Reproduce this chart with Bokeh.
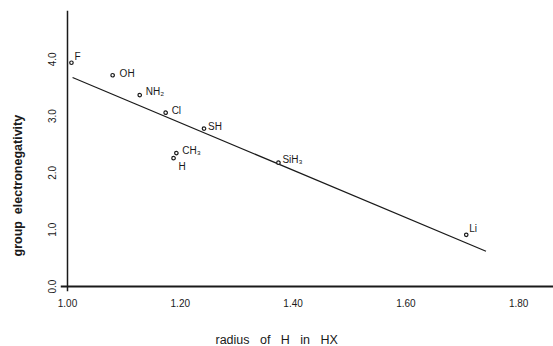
from bokeh.core.properties import value
from bokeh.embed import file_html
from bokeh.models import (ColumnDataSource, FixedTicker, NumeralTickFormatter,
                          Range1d, Span, Title)
from bokeh.plotting import figure
from bokeh.resources import INLINE

# Group electronegativity against radius of H in HX
groups = ["F", "OH", "NH₂", "Cl", "SH", "CH₃", "H", "SiH₃", "Li"]
radius = [1.007, 1.080, 1.128, 1.174, 1.242, 1.193, 1.188, 1.374, 1.707]
electroneg = [3.94, 3.72, 3.37, 3.06, 2.78, 2.35, 2.26, 2.18, 0.91]

# straight-line fit drawn through the points
fit_radius = [1.009, 1.742]
fit_electroneg = [3.68, 0.62]

x_ticks = [1.0, 1.2, 1.4, 1.6, 1.8]
y_ticks = [0, 1, 2, 3, 4]

# label placement next to each point (screen pixels)
label_dx = [3, 7, 6, 6, 4, 6, 5, 4, 3]
label_dy = [-6, -2, -4, -2, -2, -3, 8, -3, -6]

FONT = "Liberation Sans"
INK = "#1a1a1a"
GAP = "\u00a0\u00a0 "
SPACER = "\u00a0"

src = ColumnDataSource(dict(x=radius, y=electroneg, name=groups,
                            dx=label_dx, dy=label_dy))

p = figure(width=553, height=346, output_backend="svg", toolbar_location=None,
           x_range=Range1d(0.98759, 1.86170), y_range=Range1d(-0.08772, 4.8596),
           min_border_left=60, min_border_right=0, min_border_top=10,
           min_border_bottom=54)
p.outline_line_color = None
p.grid.visible = False
p.background_fill_color = "white"
p.border_fill_color = "white"

for ax in (p.xaxis[0], p.yaxis[0]):
    ax.axis_line_color = None
    ax.major_tick_line_color = None
    ax.minor_tick_line_color = None
    ax.major_tick_out = 0
    ax.major_tick_in = 0
    ax.major_label_text_font = FONT
    ax.major_label_text_font_size = "10px"
    ax.major_label_text_color = INK
    # blank axis label keeps a gap between tick labels and the titles
    ax.axis_label = SPACER
    ax.axis_label_text_font_size = "1px"

p.xaxis.ticker = FixedTicker(ticks=x_ticks)
p.xaxis.formatter = NumeralTickFormatter(format="0.00")
p.xaxis.major_label_standoff = 7
p.xaxis.axis_label_standoff = 17

p.yaxis.ticker = FixedTicker(ticks=y_ticks)
p.yaxis.formatter = NumeralTickFormatter(format="0.0")
p.yaxis.major_label_orientation = "vertical"
p.yaxis.major_label_standoff = 4
p.yaxis.axis_label_standoff = 16

# axis titles, each set off-centre along its axis
p.add_layout(Title(text=GAP.join(["radius", "of", "H", "in", "HX"]), align="left",
                   offset=155, standoff=0, text_font=FONT, text_font_size="12.5px",
                   text_font_style="normal", text_color=INK), "below")
p.add_layout(Title(text="group\u00a0 electronegativity", align="left", offset=35,
                   standoff=2, text_font=FONT, text_font_size="12.5px",
                   text_font_style="bold", text_color=INK), "left")

# axes drawn as lines crossing at (1.00, 0.0)
p.add_layout(Span(location=1.0, dimension="height", line_color=INK, line_width=1.5))
p.add_layout(Span(location=0.0, dimension="width", line_color=INK, line_width=1.8))

p.line(fit_radius, fit_electroneg, line_color=INK, line_width=1.2)
p.scatter("x", "y", source=src, size=3.5, fill_color="white", line_color=INK,
          line_width=1.2)
p.text("x", "y", text="name", source=src, x_offset="dx", y_offset="dy",
       text_font=value(FONT), text_font_size="10px", text_color=INK,
       text_align="left", text_baseline="alphabetic")

open("out.html", "w").write(file_html(p, INLINE))
